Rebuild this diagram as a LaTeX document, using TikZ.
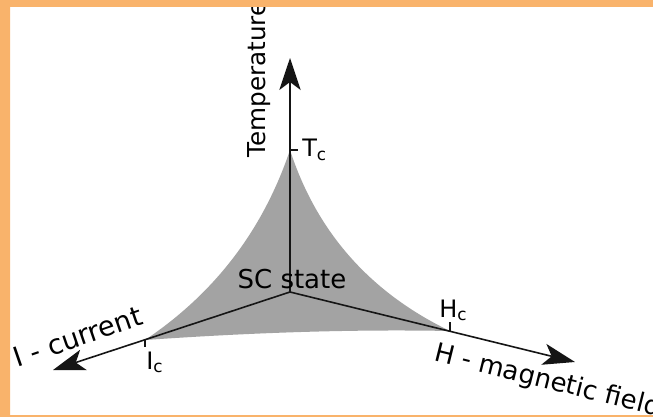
\documentclass[tikz,border=0pt]{standalone}
\usepackage{fontspec}
\setmainfont{DejaVu Sans}
\usepackage{tikz}
\usetikzlibrary{arrows.meta}
\definecolor{Frame}{HTML}{F9B36B}
\definecolor{SCgray}{HTML}{A3A3A3}
\definecolor{Ink}{HTML}{151515}

\begin{document}
\begin{tikzpicture}[x=0.75pt,y=-0.75pt,
  axis/.style={Ink,line width=1.2pt,-{Stealth[length=24pt,width=16pt,inset=6pt]}},
  tick/.style={Ink,line width=0.9pt},
  axislabel/.style={inner sep=0pt,font=\fontsize{19.5}{22}\selectfont},
  critlabel/.style={inner sep=0pt,font=\fontsize{18}{20}\selectfont}]
  \clip (0,0) rectangle (653,417);
  \fill[white] (0,0) rectangle (653,417);
  \coordinate (O) at (290,292);
  \coordinate (Ttip) at (290,58);
  \coordinate (Itip) at (53,370);
  \coordinate (Htip) at (575,362);
  \coordinate (Tc) at (290,150);
  \coordinate (Ic) at (145,340);
  \coordinate (Hc) at (450,331);
  \fill[SCgray] (Tc) .. controls (263,230) and (215,293) .. (Ic)
    .. controls (246,333) and (348,329) .. (Hc)
    .. controls (371,293) and (317,233) .. (Tc) -- cycle;
  \draw[axis] (O) -- (Ttip);
  \draw[axis] (O) -- (Itip);
  \draw[axis] (O) -- (Htip);
  \draw[tick] (Tc) -- ++(8,0);
  \draw[tick] (Ic) -- ++(0,7);
  \draw[tick] (Hc) -- ++(0,-9);
  \node[critlabel,anchor=base west] (tclabel) at (302,157) {T\textsubscript{c}};
  \node[critlabel,anchor=base west] (iclabel) at (146,369) {I\textsubscript{c}};
  \node[critlabel,anchor=base west] (hclabel) at (439,317) {H\textsubscript{c}};
  \node[axislabel,anchor=base] (sc) at (292,288) {SC state};
  \node[axislabel,anchor=base west,rotate=90,font=\fontsize{18.5}{20}\selectfont] (temp) at (265,158) {Temperature};
  \node[axislabel,anchor=base,rotate=19,font=\fontsize{20.5}{22}\selectfont] (curr) at (81,346) {I - current};
  \node[axislabel,anchor=base west,rotate=-14] (field) at (433,360) {H - magnetic field};
  \fill[Frame,even odd rule] (0,0) rectangle (653,417) (10,7) rectangle (653,415);
\end{tikzpicture}
\end{document}
